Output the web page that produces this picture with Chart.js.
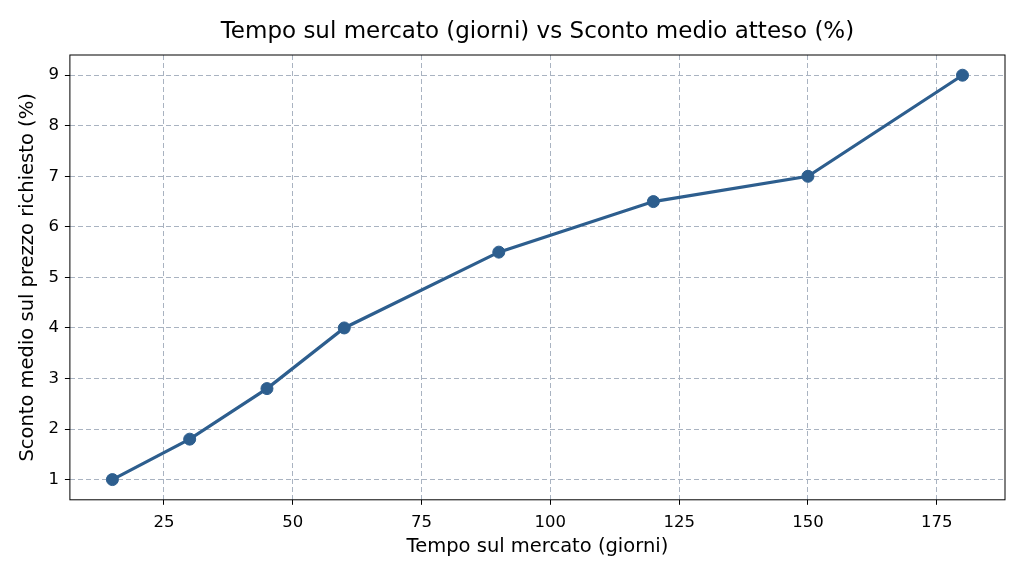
<!DOCTYPE html>
<html>
<head>
<meta charset="utf-8">
<script src="https://cdn.jsdelivr.net/npm/chart.js@4/dist/chart.umd.min.js"></script>
<style>
  html, body { margin: 0; padding: 0; background: #fff; }
  #wrap { width: 1024px; height: 576px; }
</style>
</head>
<body>
<div id="wrap"><canvas id="chart" width="1024" height="576"></canvas></div>
<script>
const giorni = [15, 30, 45, 60, 90, 120, 150, 180];
const sconto = [1, 1.8, 2.8, 4, 5.5, 6.5, 7, 9];
const xTicks = [25, 50, 75, 100, 125, 150, 175];
const yTicks = [1, 2, 3, 4, 5, 6, 7, 8, 9];
const titolo = 'Tempo sul mercato (giorni) vs Sconto medio atteso (%)';

const lineColor = '#2d5e8e';
const gridColor = '#a9b3c1';

// box around the plot area and title centred over it, like matplotlib
const frame = {
    id: 'frame',
    afterDraw(chart) {
        const { ctx, chartArea: a } = chart;
        ctx.save();
        ctx.strokeStyle = '#000';
        ctx.lineWidth = 1;
        ctx.strokeRect(a.left, a.top, a.right - a.left, a.bottom - a.top);
        ctx.fillStyle = '#000';
        ctx.font = '23px "DejaVu Sans"';
        ctx.textAlign = 'center';
        ctx.textBaseline = 'middle';
        ctx.fillText(titolo, (a.left + a.right) / 2, 32);
        ctx.restore();
    }
};

const ctx = document.getElementById('chart').getContext('2d');
new Chart(ctx, {
    type: 'line',
    data: {
        datasets: [{
            label: 'Sconto',
            data: giorni.map((g, i) => ({ x: g, y: sconto[i] })),
            borderColor: lineColor,
            backgroundColor: lineColor,
            borderWidth: 3.2,
            pointRadius: 6,
            pointBorderWidth: 1,
            pointHoverRadius: 6,
            tension: 0
        }]
    },
    options: {
        responsive: false,
        animation: false,
        devicePixelRatio: 1,
        layout: { padding: { left: 12, right: 19, top: 55, bottom: 13 } },
        plugins: {
            legend: { display: false },
            tooltip: { enabled: false },
            title: { display: false }
        },
        scales: {
            x: {
                type: 'linear',
                min: 6.75,
                max: 188.25,
                afterBuildTicks: s => { s.ticks = xTicks.map(v => ({ value: v })); },
                ticks: {
                    color: '#000',
                    font: { family: 'DejaVu Sans', size: 16.5 },
                    maxRotation: 0,
                    padding: 8
                },
                grid: {
                    color: gridColor,
                    lineWidth: 1,
                    drawTicks: true,
                    tickLength: 5,
                    tickColor: '#000',
                    tickBorderDash: []
                },
                border: { display: false, dash: [5, 3] },
                title: {
                    display: true,
                    text: 'Tempo sul mercato (giorni)',
                    color: '#000',
                    font: { family: 'DejaVu Sans', size: 19.5 },
                    padding: { top: -5 }
                }
            },
            y: {
                type: 'linear',
                min: 0.6,
                max: 9.4,
                afterBuildTicks: s => { s.ticks = yTicks.map(v => ({ value: v })); },
                ticks: {
                    color: '#000',
                    font: { family: 'DejaVu Sans', size: 16.5 },
                    padding: 6
                },
                grid: {
                    color: gridColor,
                    lineWidth: 1,
                    drawTicks: true,
                    tickLength: 5,
                    tickColor: '#000',
                    tickBorderDash: []
                },
                border: { display: false, dash: [5, 3] },
                title: {
                    display: true,
                    text: 'Sconto medio sul prezzo richiesto (%)',
                    color: '#000',
                    font: { family: 'DejaVu Sans', size: 19.5 },
                    padding: { bottom: 3 }
                }
            }
        }
    },
    plugins: [frame]
});
</script>
</body>
</html>
